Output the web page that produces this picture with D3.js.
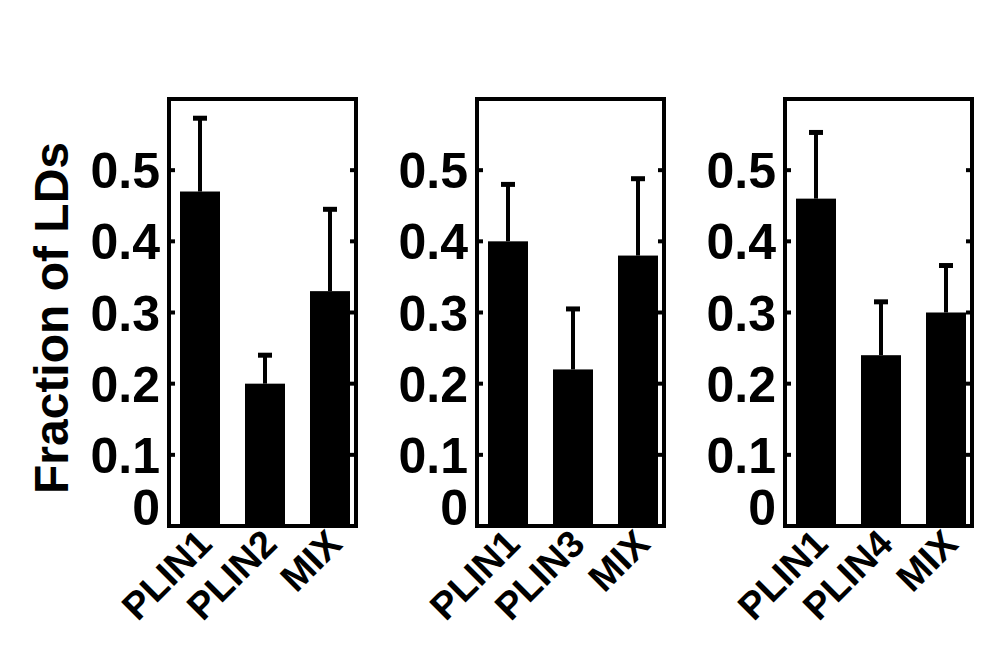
<!DOCTYPE html><html><head><script src="https://d3js.org/d3.v7.min.js"></script>
<style>body{margin:0;background:#fff}</style></head><body><svg id="c" width="983" height="664"></svg>
<script>
const panelCats=[["PLIN1","PLIN2","MIX"],["PLIN1","PLIN3","MIX"],["PLIN1","PLIN4","MIX"]];
const panelVals=[[0.47,0.20,0.33],[0.40,0.22,0.38],[0.46,0.24,0.30]];
const panelErr=[[0.103,0.04,0.115],[0.08,0.085,0.108],[0.093,0.075,0.066]];
const yTicks=[0,0.1,0.2,0.3,0.4,0.5];
const svg=d3.select("#c");
const y=d3.scaleLinear().domain([0,0.6]).range([526,99]);
const font="Liberation Sans, Arial, sans-serif";
const offsets=[0,308,616];
panelCats.forEach((cats,p)=>{
  const ox=offsets[p];
  const g=svg.append("g").attr("transform",`translate(${ox},0)`);
  const x=d3.scalePoint().domain(cats).range([200,330]);
  const bw=40;
  g.selectAll(".b").data(cats).join("rect").attr("x",d=>x(d)-bw/2).attr("width",bw)
   .attr("y",(d,i)=>y(panelVals[p][i])).attr("height",(d,i)=>y(0)-y(panelVals[p][i])).attr("fill","#000");
  cats.forEach((c,i)=>{
    const top=y(panelVals[p][i]+panelErr[p][i]);
    g.append("line").attr("x1",x(c)).attr("x2",x(c)).attr("y1",y(panelVals[p][i])).attr("y2",top).attr("stroke","#000").attr("stroke-width",4);
    g.append("line").attr("x1",x(c)-7).attr("x2",x(c)+7).attr("y1",top).attr("y2",top).attr("stroke","#000").attr("stroke-width",5);
  });
  yTicks.forEach(t=>{
    if(t===0)return;
    g.append("line").attr("x1",169).attr("x2",175).attr("y1",y(t)).attr("y2",y(t)).attr("stroke","#000").attr("stroke-width",4);
    g.append("line").attr("x1",350).attr("x2",356).attr("y1",y(t)).attr("y2",y(t)).attr("stroke","#000").attr("stroke-width",4);
  });
  g.selectAll(".t").data(yTicks).join("text").attr("x",160).attr("y",d=>y(d)).attr("dy",d=>d===0?"-0.02em":"0.36em")
   .attr("text-anchor","end").attr("font-family",font).attr("font-weight","bold").attr("font-size",50).text(d=>d===0?"0":d3.format(".1f")(d));
  g.append("rect").attr("x",169).attr("y",99).attr("width",187).attr("height",427).attr("fill","none").attr("stroke","#000").attr("stroke-width",4);
  cats.forEach(c=>{
    g.append("text").attr("transform",`translate(${x(c)+14},${546}) rotate(-45)`).attr("text-anchor","end")
     .attr("font-family",font).attr("font-weight","bold").attr("font-size",38).text(c);
  });
});
svg.append("text").attr("transform","translate(68,318) rotate(-90)").attr("text-anchor","middle")
 .attr("font-family",font).attr("font-weight","bold").attr("font-size",48).text("Fraction of LDs");
</script></body></html>
